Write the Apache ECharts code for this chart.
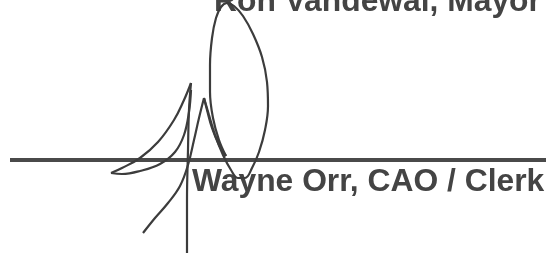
<!DOCTYPE html>
<html>
<head>
<meta charset="utf-8">
<script src="https://cdn.jsdelivr.net/npm/echarts@6/dist/echarts.min.js"></script>
<style>
  html, body { margin: 0; padding: 0; background: #ffffff; }
  #chart { width: 552px; height: 256px; }
</style>
</head>
<body>
<div id="chart"></div>
<script>
// names printed on the signature block
const topName = 'Ron Vandewal, Mayor';
const bottomName = 'Wayne Orr, CAO / Clerk';

// signing rule (x, y in page units, y grows downward)
const rule = [[10, 160], [546, 160]];

// signature strokes
const bigLoop = [[226, 156], [219, 140], [213, 118], [210, 92], [210, 65], [212, 38], [216, 18], [221, 7], [227, 3], [234, 6], [243, 16], [253, 34], [262, 57], [267, 82], [268, 106], [265, 130], [259, 152], [252, 168], [245, 178], [238, 178], [231, 170], [223, 155], [215, 135], [209, 115], [204, 98]];
const innerLine = [[204, 98], [207, 110], [212, 128], [219, 145], [226, 156]];
const stem = [[191, 83], [189, 110], [188, 150], [187, 200], [187, 253]];
const upperSweep = [[191, 83], [184, 100], [174, 120], [158, 142], [140, 158], [122, 168], [111, 173]];
const lowerSweep = [[111, 173], [122, 174], [140, 171], [160, 164], [175, 152], [184, 135], [189, 112], [191, 90]];
const lowerRise = [[143, 233], [155, 218], [168, 203], [180, 186], [188, 165], [194, 140], [199, 118], [204, 98]];

const strokes = [bigLoop, innerLine, stem, upperSweep, lowerSweep, lowerRise];

const myChart = echarts.init(document.getElementById('chart'));

const ink = '#444444';

const series = strokes.map(pts => ({
  type: 'line',
  data: pts,
  smooth: 0.4,
  symbol: 'none',
  silent: true,
  z: 10,
  lineStyle: { color: '#3c3c3c', width: 2.2 }
}));

series.push({
  type: 'line',
  data: rule,
  symbol: 'none',
  silent: true,
  z: 5,
  lineStyle: { color: '#4a4a4a', width: 4 }
});

const option = {
  backgroundColor: '#ffffff',
  animation: false,
  grid: { left: 0, right: 0, top: 0, bottom: 0 },
  xAxis: { type: 'value', min: 0, max: 552, show: false },
  yAxis: { type: 'value', min: 0, max: 256, inverse: true, show: false },
  graphic: [
    {
      type: 'text',
      left: 214,
      top: -14,
      z: 1,
      style: {
        text: topName,
        fill: ink,
        font: 'bold 31.8px "Liberation Sans", Arial, sans-serif'
      }
    },
    {
      type: 'text',
      left: 192,
      top: 166,
      z: 1,
      style: {
        text: bottomName,
        fill: ink,
        font: 'bold 31.8px "Liberation Sans", Arial, sans-serif'
      }
    }
  ],
  series: series
};

myChart.setOption(option);
</script>
</body>
</html>
